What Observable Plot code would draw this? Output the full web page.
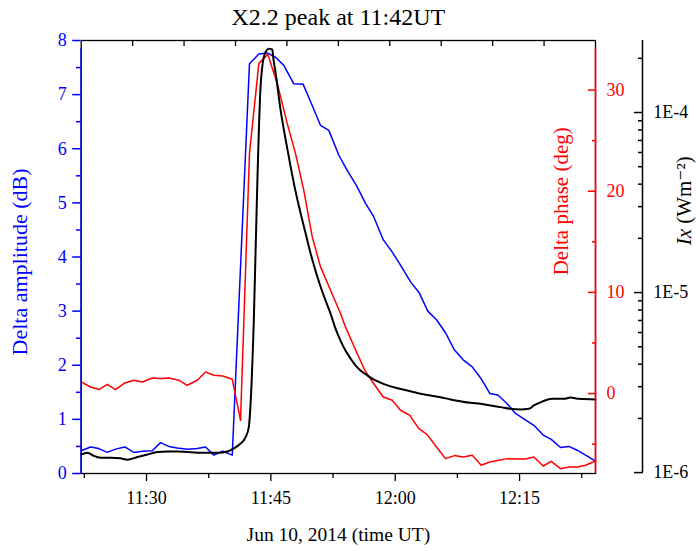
<!DOCTYPE html>
<html><head><meta charset="utf-8">
<script src="https://cdn.jsdelivr.net/npm/d3@7"></script>
<script src="https://cdn.jsdelivr.net/npm/@observablehq/plot@0.6"></script>
<style>html,body{margin:0;padding:0;background:#fff;}svg{display:block}svg text{font-family:"Liberation Serif","Times New Roman",Times,"DejaVu Serif",serif !important;}</style>
</head><body><div id="chart"></div>
<script>
// Time values: minutes after 11:00 UT, Jun 10 2014
const ampTime = [22.12,23.25,24.25,25.26,26.26,27.38,28.47,29.48,30.69,31.69,32.69,33.70,34.91,36.12,37.12,38.12,39.20,40.34,42.42,43.55,44.56,45.56,46.56,47.77,48.90,49.99,50.99,51.99,53.20,54.21,55.33,56.42,57.42,58.55,59.64,60.64,61.85,62.85,63.93,64.98,66.07,67.15,68.20,69.29,70.37,71.41,72.38,73.51,74.51,75.60,76.72,77.85,78.82,79.94,80.94,81.95,82.96,84.16];
const ampDb = [0.42,0.49,0.46,0.39,0.45,0.49,0.39,0.41,0.42,0.57,0.50,0.47,0.45,0.46,0.49,0.34,0.41,0.34,7.57,7.75,7.77,7.69,7.54,7.20,7.19,6.80,6.43,6.34,5.88,5.60,5.32,4.99,4.74,4.32,4.09,3.85,3.54,3.35,3.00,2.84,2.60,2.28,2.10,1.97,1.75,1.48,1.45,1.29,1.11,1.00,0.89,0.71,0.63,0.48,0.50,0.43,0.34,0.23];

const phaseTime = [22.12,23.25,24.25,25.26,26.26,27.38,28.47,29.48,30.69,31.69,32.69,33.90,34.91,36.12,37.12,38.12,39.20,40.34,41.34,42.42,43.55,44.63,45.77,46.97,47.97,48.97,49.99,50.99,52.20,53.40,54.00,55.33,56.33,57.54,58.55,59.64,60.64,61.76,62.85,63.86,64.98,66.07,67.15,68.20,69.29,70.37,71.41,72.50,73.51,74.63,75.72,76.72,77.85,78.82,79.94,80.94,81.95,82.96,84.16];
const phaseDeg = [1.15,0.65,0.40,0.92,0.40,1.05,1.32,1.15,1.54,1.48,1.54,1.32,0.82,1.32,2.14,1.81,1.74,1.41,-2.64,23.74,32.64,33.53,30.66,26.71,23.74,20.11,15.49,12.52,10.22,7.91,6.59,4.11,2.30,0.82,-0.34,-0.66,-1.65,-2.15,-3.46,-4.06,-5.28,-6.43,-6.13,-6.27,-6.10,-7.09,-6.77,-6.60,-6.43,-6.47,-6.47,-6.27,-7.16,-6.70,-7.42,-7.26,-7.26,-7.09,-6.67];

const ixTime = [22.12,22.88,23.61,24.45,25.66,26.86,27.71,28.91,30.12,31.33,32.53,33.74,34.95,36.15,37.36,38.57,39.77,40.49,41.34,41.94,42.34,42.55,42.94,43.35,43.75,44.23,44.75,45.16,45.32,45.68,46.16,46.77,47.37,47.97,48.58,49.18,49.78,50.39,50.99,51.59,52.20,52.80,53.40,54.00,54.61,55.21,55.81,56.66,57.62,58.83,60.28,61.85,63.06,64.26,65.46,66.67,67.88,69.08,70.29,71.50,72.70,73.91,75.12,76.12,76.72,77.73,78.94,80.34,81.15,82.15,84.16];
const ixFlux = [1.26e-6,1.29e-6,1.24e-6,1.21e-6,1.21e-6,1.20e-6,1.18e-6,1.22e-6,1.26e-6,1.30e-6,1.31e-6,1.31e-6,1.30e-6,1.29e-6,1.29e-6,1.29e-6,1.31e-6,1.36e-6,1.45e-6,1.57e-6,1.79e-6,2.41e-6,6.98e-6,3.82e-5,1.37e-4,2.09e-4,2.26e-4,2.24e-4,1.97e-4,1.53e-4,1.04e-4,7.11e-5,5.04e-5,3.66e-5,2.77e-5,2.14e-5,1.66e-5,1.32e-5,1.08e-5,9.04e-6,7.64e-6,6.30e-6,5.41e-6,4.76e-6,4.30e-6,3.94e-6,3.69e-6,3.46e-6,3.25e-6,3.08e-6,2.94e-6,2.83e-6,2.74e-6,2.68e-6,2.62e-6,2.55e-6,2.49e-6,2.44e-6,2.41e-6,2.36e-6,2.31e-6,2.26e-6,2.24e-6,2.26e-6,2.36e-6,2.48e-6,2.57e-6,2.57e-6,2.61e-6,2.57e-6,2.55e-6];

const xTickLabels = ["11:30","11:45","12:00","12:15"];
const xMinorLabels = ["11:22:30","11:37:30","11:52:30","12:07:30","12:22:30"];
const ampTicks = [0,1,2,3,4,5,6,7,8];
const ampMinor = [0.5,1.5,2.5,3.5,4.5,5.5,6.5,7.5];
const phaseTicks = [0,10,20,30];
const phaseMinor = [-5,5,15,25];
const ixTicks = [1e-6,1e-5,1e-4];
const ixTickLabels = ["1E-6","1E-5","1E-4"];
const ixMinor = [2e-6,3e-6,4e-6,5e-6,6e-6,7e-6,8e-6,9e-6,2e-5,3e-5,4e-5,5e-5,6e-5,7e-5,8e-5,9e-5,2e-4];

const titleText = "X2.2 peak at 11:42UT";
const xLabel = "Jun 10, 2014 (time UT)";
const ampLabel = "Delta amplitude (dB)";
const phaseLabel = "Delta phase (deg)";

const BLUE = "#0000ff", RED = "#ff0000", FONT = "Liberation Serif";
const T0 = Date.UTC(2014, 5, 10, 11, 0, 0);
const toDate = m => new Date(T0 + m * 60000);
const parseHM = s => { const p = s.split(":").map(Number); return new Date(Date.UTC(2014,5,10,p[0],p[1],p[2]||0)); };
const X0 = 22.12, X1 = 84.16;
const PH = [-7.9, 34.9];
const LG = [-6.005, -3.60];
const ph2y = d => (d - PH[0]) / (PH[1] - PH[0]) * 8;
const y2ph = y => y / 8 * (PH[1] - PH[0]) + PH[0];
const ix2y = v => (Math.log10(v) - LG[0]) / (LG[1] - LG[0]) * 8;

const amp = ampTime.map((t, i) => ({t: toDate(t), v: ampDb[i]}));
const phase = phaseTime.map((t, i) => ({t: toDate(t), v: ph2y(phaseDeg[i])}));
const ix = ixTime.map((t, i) => ({t: toDate(t), v: ix2y(ixFlux[i])}));

const majorX = xTickLabels.map(parseHM);
const minorX = xMinorLabels.map(parseHM).filter(d => d <= toDate(X1));
const topX = d3.range(1, 10).map(i => toDate(X0 + i * (X1 - X0) / 10));
const fmtHM = d3.utcFormat("%H:%M");
const none = () => "";
const LOGDX = 47;

const chart = Plot.plot({
  width: 696, height: 551,
  marginLeft: 80.7, marginRight: 101, marginTop: 40, marginBottom: 78,
  style: {fontFamily: FONT, background: "white", overflow: "visible"},
  x: {type: "utc", domain: [toDate(X0), toDate(X1)]},
  y: {domain: [0, 8]},
  marks: [
    Plot.frame({stroke: "black", strokeWidth: 1.3}),
    Plot.line(amp, {x: "t", y: "v", stroke: BLUE, strokeWidth: 1.5}),
    Plot.line(phase, {x: "t", y: "v", stroke: RED, strokeWidth: 1.5}),
    Plot.line(ix, {x: "t", y: "v", stroke: "black", strokeWidth: 2, curve: "monotone-x"}),
    // bottom axis
    Plot.axisX({anchor: "bottom", ticks: majorX, tickSize: 8, tickFormat: none, label: null, stroke: "black", strokeWidth: 1.3}),
    Plot.axisX({anchor: "bottom", ticks: minorX, tickSize: 5, tickFormat: none, label: null, stroke: "black", strokeWidth: 1.3}),
    Plot.axisX({anchor: "bottom", ticks: majorX, tickSize: 0, tickPadding: 18, tickFormat: fmtHM, label: null, fill: "black", fontSize: 18, fontFamily: FONT}),
    // top ticks
    Plot.axisX({anchor: "top", ticks: topX, tickSize: -5, tickFormat: none, label: null, stroke: "black", strokeWidth: 1.3}),
    // left amplitude axis
    Plot.ruleX([toDate(X0)], {y1: 0, y2: 7.85, stroke: BLUE, strokeWidth: 1.6}),
    Plot.axisY({anchor: "left", ticks: ampTicks, tickSize: 8.5, tickFormat: none, label: null, stroke: BLUE, strokeWidth: 1.5}),
    Plot.axisY({anchor: "left", ticks: ampMinor, tickSize: 4.7, tickFormat: none, label: null, stroke: BLUE, strokeWidth: 1.5}),
    Plot.axisY({anchor: "left", ticks: ampTicks, tickSize: 0, tickPadding: 14.5, tickFormat: d => String(d), label: null, fill: BLUE, fontSize: 18, fontFamily: FONT}),
    // right phase axis
    Plot.ruleX([toDate(X1)], {y1: 0, y2: 7.85, stroke: RED, strokeWidth: 1.6}),
    Plot.axisY({anchor: "right", ticks: phaseTicks.map(ph2y), tickSize: -8, tickFormat: none, label: null, stroke: RED, strokeWidth: 1.5}),
    Plot.axisY({anchor: "right", ticks: phaseMinor.map(ph2y), tickSize: -4, tickFormat: none, label: null, stroke: RED, strokeWidth: 1.5}),
    Plot.axisY({anchor: "right", ticks: phaseTicks.map(ph2y), tickSize: 0, tickPadding: 11, tickFormat: y => String(Math.round(y2ph(y))), label: null, fill: RED, fontSize: 18, fontFamily: FONT}),
    // far right Ix log axis
    Plot.ruleX([toDate(X1)], {y1: ix2y(1e-6), y2: 8, dx: LOGDX, stroke: "black", strokeWidth: 1.5}),
    Plot.axisY({anchor: "right", dx: LOGDX, ticks: ixTicks.map(ix2y), tickSize: -9, tickFormat: none, label: null, stroke: "black", strokeWidth: 1.5}),
    Plot.axisY({anchor: "right", dx: LOGDX, ticks: ixMinor.map(ix2y), tickSize: -5, tickFormat: none, label: null, stroke: "black", strokeWidth: 1.5}),
    Plot.axisY({anchor: "right", dx: LOGDX, ticks: ixTicks.map(ix2y), tickSize: 0, tickPadding: 10.7,
      tickFormat: y => ixTickLabels[ixTicks.findIndex(v => Math.abs(ix2y(v) - y) < 1e-6)], label: null, fill: "black", fontSize: 18, fontFamily: FONT}),
    // titles and labels
    Plot.text([titleText], {frameAnchor: "top", lineAnchor: "bottom", textAnchor: "middle", dy: -16, fontSize: 24, fontFamily: FONT, fill: "black"}),
    Plot.text([xLabel], {frameAnchor: "bottom", lineAnchor: "bottom", textAnchor: "middle", dy: 67.7, fontSize: 19.5, fontFamily: FONT, fill: "black"}),
    Plot.text([ampLabel], {frameAnchor: "left", rotate: -90, lineAnchor: "bottom", textAnchor: "middle", dx: -54, dy: 5, fontSize: 22, fontFamily: FONT, fill: BLUE}),
    Plot.text([phaseLabel], {frameAnchor: "right", rotate: -90, lineAnchor: "bottom", textAnchor: "middle", dx: -28, dy: -55.7, fontSize: 21, fontFamily: FONT, fill: RED}),
    Plot.text(["Ix"], {frameAnchor: "right", rotate: -90, lineAnchor: "bottom", textAnchor: "start", dx: 95, dy: 245 - 256.65, fontSize: 21, fontFamily: FONT, fontStyle: "italic", fill: "black"}),
    Plot.text(["(Wm\u207B\u00B2)"], {frameAnchor: "right", rotate: -90, lineAnchor: "bottom", textAnchor: "start", dx: 95, dy: 245 - 21.5 - 256.65, fontSize: 21, fontFamily: FONT, fill: "black"})
  ]
});
document.getElementById("chart").appendChild(chart);
</script>
</body></html>
